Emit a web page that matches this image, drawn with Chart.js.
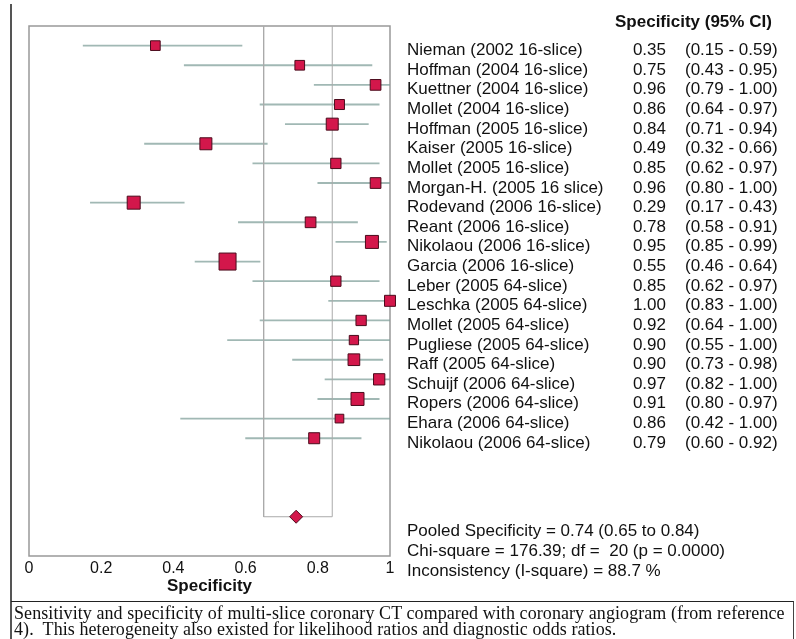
<!DOCTYPE html>
<html lang="en">
  <head>
    <meta charset="UTF-8" />
    <title>Specificity forest plot</title>
    <script src="https://cdn.jsdelivr.net/npm/chart.js"></script>
    <style>
      body { margin: 0; background: #fff; }
      #wrap { position: relative; width: 796px; height: 639px; overflow: hidden; }
      #plot { position: absolute; left: 0; top: 0; }
      #leftRule { position: absolute; left: 10px; top: 4px; width: 2px; height: 635px; background: #555; }
      #caption {
        position: absolute; left: 11px; top: 601px; width: 779px; height: 40px;
        border-top: 1.5px solid #222; border-right: 1px solid #444;
        padding-left: 3px; font-family: "Liberation Serif", "Times New Roman", serif;
        font-size: 18px; letter-spacing: 0.08px; line-height: 16px; color: #111; padding-top: 3px;
        white-space: nowrap;
      }
    </style>
  </head>
  <body>
    <div id="wrap">
      <canvas id="plot" width="796" height="600"></canvas>
      <div id="leftRule"></div>
      <div id="caption">Sensitivity and specificity of multi-slice coronary CT compared with coronary angiogram (from reference<br>4).&nbsp; This heterogeneity also existed for likelihood ratios and diagnostic odds ratios.</div>
    </div>
    <script>
      const studies = [
        "Nieman (2002 16-slice)", "Hoffman (2004 16-slice)", "Kuettner (2004 16-slice)",
        "Mollet (2004 16-slice)", "Hoffman (2005 16-slice)", "Kaiser (2005 16-slice)",
        "Mollet (2005 16-slice)", "Morgan-H. (2005 16 slice)", "Rodevand (2006 16-slice)",
        "Reant (2006 16-slice)", "Nikolaou (2006 16-slice)", "Garcia (2006 16-slice)",
        "Leber (2005 64-slice)", "Leschka (2005 64-slice)", "Mollet (2005 64-slice)",
        "Pugliese (2005 64-slice)", "Raff (2005 64-slice)", "Schuijf (2006 64-slice)",
        "Ropers (2006 64-slice)", "Ehara (2006 64-slice)", "Nikolaou (2006 64-slice)"
      ];
      const specificity = [0.35, 0.75, 0.96, 0.86, 0.84, 0.49, 0.85, 0.96, 0.29, 0.78, 0.95,
                           0.55, 0.85, 1.00, 0.92, 0.90, 0.90, 0.97, 0.91, 0.86, 0.79];
      const ciLow = [0.15, 0.43, 0.79, 0.64, 0.71, 0.32, 0.62, 0.80, 0.17, 0.58, 0.85,
                     0.46, 0.62, 0.83, 0.64, 0.55, 0.73, 0.82, 0.80, 0.42, 0.60];
      const ciHigh = [0.59, 0.95, 1.00, 0.97, 0.94, 0.66, 0.97, 1.00, 0.43, 0.91, 0.99,
                      0.64, 0.97, 1.00, 1.00, 1.00, 0.98, 1.00, 0.97, 1.00, 0.92];
      // relative study weights (box area)
      const weights = [1.14, 1.14, 1.37, 1.21, 1.69, 1.69, 1.28, 1.37, 1.96, 1.37, 1.96,
                       3.24, 1.28, 1.44, 1.28, 1.06, 1.61, 1.51, 1.96, 0.94, 1.44];
      const pooled = 0.74, pooledLow = 0.65, pooledHigh = 0.84;
      const xTicks = [0, 0.2, 0.4, 0.6, 0.8, 1];
      const header = "Specificity (95% CI)";
      const statsLines = [
        "Pooled Specificity = 0.74 (0.65 to 0.84)",
        "Chi-square = 176.39; df =  20 (p = 0.0000)",
        "Inconsistency (I-square) = 88.7 %"
      ];

      const pooledRow = studies.length + 3;
      const fmt = (v) => v.toFixed(2);
      const sans = '"Liberation Sans", Arial, sans-serif';
      const boxColor = "#d3174b";
      const boxBorder = "#4b0b1c";

      const frame = {
        id: "frame",
        beforeDatasetsDraw(chart) {
          const a = chart.chartArea, ctx = chart.ctx;
          ctx.save();
          ctx.strokeStyle = "#999";
          ctx.lineWidth = 1.5;
          ctx.strokeRect(a.left, a.top, a.right - a.left, a.bottom - a.top);
          ctx.restore();
        },
        afterDraw(chart) {
          const ctx = chart.ctx, y = chart.scales.y;
          ctx.save();
          ctx.fillStyle = "#111";
          ctx.textBaseline = "alphabetic";
          ctx.font = "bold 17px " + sans;
          ctx.textAlign = "left";
          ctx.fillText(header, 615, y.getPixelForValue(-1) + 1);
          ctx.font = "17px " + sans;
          studies.forEach((s, i) => {
            const py = y.getPixelForValue(i) + 9.5;
            ctx.textAlign = "left";
            ctx.fillText(s, 407, py);
            ctx.textAlign = "right";
            ctx.fillText(fmt(specificity[i]), 666, py);
            ctx.textAlign = "left";
            ctx.fillText("(" + fmt(ciLow[i]) + " - " + fmt(ciHigh[i]) + ")", 685, py);
          });
          statsLines.forEach((t, k) => {
            ctx.fillText(t, 407, y.getPixelForValue(pooledRow + 1 + k));
          });
          ctx.restore();
        }
      };

      new Chart(document.getElementById("plot"), {
        type: "scatter",
        data: {
          datasets: [
            {
              type: "bar",
              indexAxis: "y",
              data: studies.map((s, i) => ({ y: i, x: [ciLow[i], ciHigh[i]] })),
              backgroundColor: "rgba(130,160,155,0.75)",
              barThickness: 1.2,
              grouped: false,
              order: 3
            },
            {
              type: "line",
              data: [
                { x: pooledLow, y: -1 }, { x: pooledLow, y: pooledRow },
                { x: pooledHigh, y: pooledRow }, { x: pooledHigh, y: -1 }
              ],
              borderColor: "#aaa",
              borderWidth: 1,
              pointRadius: 0,
              fill: false,
              order: 2
            },
            {
              data: studies.map((s, i) => ({ x: specificity[i], y: i })),
              pointStyle: "rect",
              pointRadius: weights.map((w) => (Math.sqrt(w) * 10 - 1) * 0.707),
              backgroundColor: boxColor,
              borderColor: boxBorder,
              borderWidth: 1,
              clip: false,
              order: 1
            },
            {
              data: [{ x: pooled, y: pooledRow }],
              pointStyle: "rectRot",
              pointRadius: 6.5,
              backgroundColor: boxColor,
              borderColor: boxBorder,
              borderWidth: 1,
              clip: false,
              order: 0
            }
          ]
        },
        options: {
          responsive: false,
          animation: false,
          events: [],
          layout: { padding: { left: 29, top: 26, right: 406, bottom: 3 } },
          plugins: { legend: { display: false }, tooltip: { enabled: false } },
          scales: {
            x: {
              type: "linear",
              min: 0,
              max: 1,
              offset: false,
              afterBuildTicks: (s) => { s.ticks = xTicks.map((v) => ({ value: v })); },
              afterFit: (s) => { s.height = 41; },
              grid: { display: false, drawTicks: false },
              border: { display: false },
              ticks: {
                padding: 3,
                color: "#111",
                font: { family: sans, size: 16 },
                callback: (v) => String(v)
              },
              title: {
                display: true,
                text: "Specificity",
                color: "#111",
                padding: 0,
                font: { family: sans, size: 17, weight: "bold" }
              }
            },
            y: {
              type: "linear",
              min: -1,
              max: 26,
              reverse: true,
              offset: false,
              display: false
            }
          }
        },
        plugins: [frame]
      });
    </script>
  </body>
</html>
